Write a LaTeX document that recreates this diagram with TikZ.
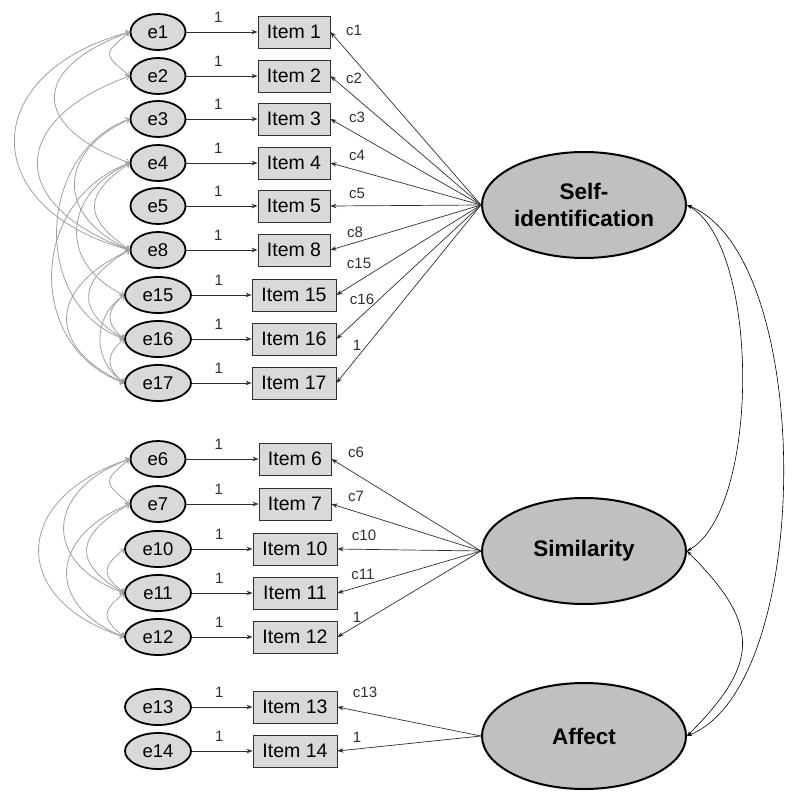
\documentclass[tikz,border=0pt]{standalone}
\usepackage{fontspec}
\setmainfont{Liberation Sans}
\usetikzlibrary{arrows.meta,shapes.geometric,calc}

\definecolor{efill}{HTML}{D9D9D9}
\definecolor{lfill}{HTML}{C0C0C0}
\definecolor{covc}{HTML}{A0A0A0}
\definecolor{linec}{HTML}{303030}

\tikzset{
 errnode/.style={ellipse, draw=black, line width=1.8pt, fill=efill, minimum width=55pt, minimum height=36pt, inner sep=0pt, font=\fontsize{18.5}{20}\selectfont},
 errwide/.style={errnode, minimum width=66pt},
 itembox/.style={rectangle, draw=linec, line width=0.9pt, fill=efill, minimum width=72pt, minimum height=32pt, inner sep=0pt, font=\fontsize{19.5}{21}\selectfont},
 itemwide/.style={itembox, minimum width=84pt},
 latent/.style={ellipse, draw=black, line width=2pt, fill=lfill, minimum width=204pt, minimum height=106pt, inner sep=0pt, align=center, font=\bfseries\fontsize{22.5}{27}\selectfont},
 arr/.style={draw=linec, line width=0.8pt, -{Stealth[length=6pt,width=4.5pt]}},
 load/.style={draw=linec, line width=0.7pt, -{Stealth[length=6pt,width=4.5pt]}},
 cov/.style={draw=covc, line width=0.8pt, {Straight Barb[length=3pt,width=6pt]}-{Straight Barb[length=3pt,width=6pt]}},
 lcov/.style={draw=black, line width=0.6pt, {Stealth[length=5pt,width=3.5pt]}-{Stealth[length=5pt,width=3.5pt]}},
 lbl/.style={font=\fontsize{15}{17}\selectfont, inner sep=1pt, text=linec},
 one/.style={lbl, pos=0.45, above=8.5pt},
}

\newcommand\lcv[4][25]{%
 \pgfmathsetmacro\cvL{1.3333*#4/cos(#1)}%
 \pgfmathsetmacro\cvA{180+#1}%
 \pgfmathsetmacro\cvB{180-#1}%
 \draw[cov] (#2.west) to[out=\cvA, in=\cvB, distance=\cvL pt] (#3.west);}
\newcommand\rcv[4][30]{%
 \pgfmathsetmacro\cvL{1.3333*#4/cos(#1)}%
 \pgfmathsetmacro\cvA{360-#1}%
 \pgfmathsetmacro\cvB{#1}%
 \draw[lcov] (#2.east) to[out=\cvA, in=\cvB, distance=\cvL pt] (#3.east);}

\begin{document}
\begin{tikzpicture}[x=1pt,y=1pt]
\useasboundingbox (0,0) rectangle (800,-808);
\fill[white] (0,0) rectangle (800,-808);

% latent factors
\node[latent] (self) at (584,-205) {Self-\\identification};
\node[latent] (sim) at (584,-551) {Similarity};
\node[latent] (aff) at (584,-736) {Affect};

% group 1
\foreach \n/\y/\s in {1/32/errnode,2/76/errnode,3/119/errnode,4/163/errnode,5/206/errnode,8/250/errnode,15/295/errwide,16/339/errwide,17/383/errwide}{
  \node[\s] (e\n) at (158,-\y) {e\n};
}
\foreach \n/\y/\s in {1/32/itembox,2/76/itembox,3/119/itembox,4/163/itembox,5/206/itembox,8/250/itembox,15/295/itemwide,16/339/itemwide,17/383/itemwide}{
  \node[\s] (i\n) at (294,-\y) {Item \n};
  \draw[arr] (e\n.east) -- (i\n.west) node[one] {1};
  \draw[load] (self.west) -- (i\n.east);
}

% group 2
\foreach \n/\y/\s in {6/459/errnode,7/504/errnode,10/549/errwide,11/593/errwide,12/637/errwide}{
  \node[\s] (e\n) at (158,-\y) {e\n};
}
\foreach \n/\y/\s in {6/459/itembox,7/504/itembox,10/549/itemwide,11/593/itemwide,12/637/itemwide}{
  \node[\s] (i\n) at (295,-\y) {Item \n};
  \draw[arr] (e\n.east) -- (i\n.west) node[one] {1};
  \draw[load] (sim.west) -- (i\n.east);
}

% group 3
\foreach \n/\y in {13/707,14/751}{
  \node[errwide] (e\n) at (158,-\y) {e\n};
  \node[itemwide] (i\n) at (295,-\y) {Item \n};
  \draw[arr] (e\n.east) -- (i\n.west) node[one] {1};
  \draw[load] (aff.west) -- (i\n.east);
}

% loading labels
\node[lbl] (lc1) at (354,-30) {c1};
\node[lbl] (lc2) at (354,-78) {c2};
\node[lbl] (lc3) at (357,-117) {c3};
\node[lbl] (lc4) at (357,-155) {c4};
\node[lbl] (lc5) at (357,-193) {c5};
\node[lbl] (lc8) at (355,-232) {c8};
\node[lbl] (lc15) at (359,-263) {c15};
\node[lbl] (lc16) at (362,-299) {c16};
\node[lbl] (lc17) at (357,-345) {1};
\node[lbl] (lc6) at (356,-452) {c6};
\node[lbl] (lc7) at (356,-496) {c7};
\node[lbl] (lc10) at (364,-535) {c10};
\node[lbl] (lc11) at (363,-574) {c11};
\node[lbl] (lc12) at (357,-617) {1};
\node[lbl] (lc13) at (365,-692) {c13};
\node[lbl] (lc14) at (357,-737) {1};

% error covariances, group 1
\lcv[40]{e1}{e2}{20}
\lcv[20]{e1}{e4}{75}
\lcv[15]{e1}{e8}{115}
\lcv[20]{e2}{e8}{92}
\lcv[25]{e3}{e8}{55}
\lcv[20]{e3}{e16}{70}
\lcv[35]{e4}{e8}{35}
\lcv[25]{e4}{e15}{50}
\lcv[20]{e4}{e17}{75}
\lcv[30]{e8}{e16}{38}
\lcv[25]{e8}{e17}{60}
\lcv[40]{e15}{e16}{14}
\lcv[35]{e15}{e17}{24}
\lcv[40]{e16}{e17}{14}

% error covariances, group 2
\lcv[40]{e6}{e7}{20}
\lcv[20]{e6}{e11}{63}
\lcv[18]{e6}{e12}{88}
\lcv[30]{e7}{e11}{40}
\lcv[22]{e7}{e12}{60}
\lcv[40]{e10}{e11}{17}
\lcv[40]{e11}{e12}{17}

% factor covariances
\rcv[30]{self}{sim}{55}
\rcv[22]{self}{aff}{96}
\rcv[45]{sim}{aff}{55}
\end{tikzpicture}
\end{document}
